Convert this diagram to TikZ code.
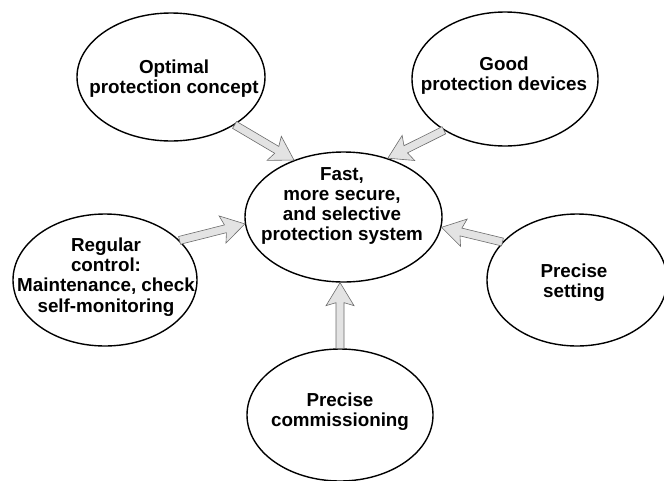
\documentclass[tikz,border=0pt]{standalone}
\usepackage{fontspec}
\setmainfont{Liberation Sans}
\usetikzlibrary{calc,shapes.geometric}
\tikzset{
  bubble/.style={ellipse, draw=black, line width=1.4pt, fill=white, inner sep=0pt},
  lbl/.style={font=\bfseries\fontsize{18.8}{20.2}\selectfont, align=center, inner sep=0pt},
  blockarr/.style={draw=gray!85!black, fill=gray!22, line width=0.6pt, line join=miter},
}
\newcommand{\blkarrow}[2]{%
  \draw[blockarr] let \p1=(#1), \p2=(#2),
    \n1={atan2(\y2-\y1,\x2-\x1)}, \n2={veclen(\x2-\x1,\y2-\y1)} in
    [shift={(\p1)}, rotate=\n1]
    (0pt,4pt) -- (\n2-20pt,4pt) -- (\n2-23pt,14pt) -- (\n2,0pt)
    -- (\n2-23pt,-14pt) -- (\n2-20pt,-4pt) -- (0pt,-4pt) -- cycle;}
\begin{document}
\begin{tikzpicture}[x=1pt,y=-1pt]
\fill[white] (0,0) rectangle (664,480);
\useasboundingbox (0,0) rectangle (664,480);

\node[bubble, minimum width=188pt, minimum height=128pt] (tl) at (171,77) {};
\node[bubble, minimum width=186pt, minimum height=134pt] (tr) at (505,79) {};
\node[bubble, minimum width=197pt, minimum height=130pt] (c) at (343.5,217) {};
\node[bubble, minimum width=184pt, minimum height=132pt] (l) at (105,280) {};
\node[bubble, minimum width=180pt, minimum height=132pt] (r) at (577,280) {};
\node[bubble, minimum width=186pt, minimum height=132pt] (b) at (340,415) {};

\node[lbl] (tlt) at (174,79) {Optimal\\protection concept};
\node[lbl] (trt) at (504,76) {Good\\protection devices};
\node[lbl] (ct) at (342,206) {Fast,\\more secure,\\and selective\\protection system};
\node[lbl] (lt) at (106,277) {Regular\\control:\\Maintenance, check\\self-monitoring};
\node[lbl] (rt) at (574,283) {Precise\\setting};
\node[lbl] (bt) at (340,412) {Precise\\commissioning};

\blkarrow{tl.-37}{c.131.5}
\blkarrow{tr.220}{c.53}
\blkarrow{l.28}{c.184}
\blkarrow{r.153}{c.-6.5}
\blkarrow{b.90}{c.-93}
\end{tikzpicture}
\end{document}
